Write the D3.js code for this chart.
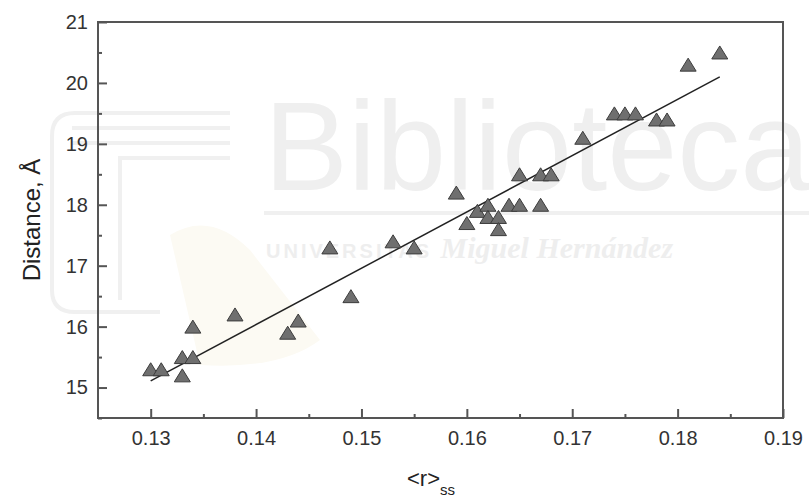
<!DOCTYPE html>
<html>
<head>
<meta charset="utf-8">
<script src="https://cdn.jsdelivr.net/npm/d3@7"></script>
<style>
  body { margin: 0; background: #fff; }
  text { font-family: "Liberation Sans", Arial, sans-serif; }
</style>
</head>
<body>
<div id="plot"></div>
<script>
// values
let rss = [0.130, 0.131, 0.133, 0.134, 0.133, 0.134, 0.138, 0.143, 0.144, 0.147,
  0.149, 0.153, 0.155, 0.159, 0.160, 0.161, 0.162, 0.162, 0.163, 0.163,
  0.164, 0.165, 0.167, 0.165, 0.167, 0.168, 0.171, 0.174, 0.175, 0.176,
  0.178, 0.179, 0.181, 0.184];
let distance = [15.3, 15.3, 15.5, 15.5, 15.2, 16.0, 16.2, 15.9, 16.1, 17.3,
  16.5, 17.4, 17.3, 18.2, 17.7, 17.9, 18.0, 17.8, 17.8, 17.6,
  18.0, 18.0, 18.0, 18.5, 18.5, 18.5, 19.1, 19.5, 19.5, 19.5,
  19.4, 19.4, 20.3, 20.5];
// linear fit ends
let fitX = [0.130, 0.184];
let fitY = [15.11, 20.10];

let xTicks = [0.13, 0.14, 0.15, 0.16, 0.17, 0.18, 0.19];
let yTicks = [15, 16, 17, 18, 19, 20, 21];

let width = 809, height = 500;
let margin = { top: 22, bottom: 82, left: 98, right: 26 };

let svg = d3.select('#plot')
  .append('svg')
  .attr('width', width)
  .attr('height', height);

// faint watermark in the background
let wm = svg.append('g').attr('fill', 'none').attr('stroke', '#f0f0f0');
wm.append('path')
  .attr('fill', '#fcfaf3').attr('stroke', 'none')
  .attr('d', 'M170,235 Q210,210 250,250 L320,340 Q280,370 200,365 Z');
wm.append('path')
  .attr('stroke-width', 4)
  .attr('d', 'M230,113 H75 Q52,113 52,136 V290 Q52,312 75,312 H160');
wm.append('path')
  .attr('stroke-width', 4)
  .attr('d', 'M230,128 H72 M230,143 H72 M230,158 H120 V300');
svg.append('text')
  .attr('x', 264).attr('y', 190)
  .attr('font-size', 126)
  .attr('fill', '#efefef')
  .text('Biblioteca');
svg.append('rect')
  .attr('x', 264).attr('y', 211).attr('width', 545).attr('height', 4)
  .attr('fill', '#f0f0f0');
let wt = svg.append('text')
  .attr('x', 266).attr('y', 258)
  .attr('fill', '#eeeeee');
wt.append('tspan').attr('font-size', 20).attr('font-weight', 'bold')
  .attr('letter-spacing', 3).text('UNIVERSITAS ');
wt.append('tspan')
  .attr('font-family', '"Liberation Serif", serif')
  .attr('font-style', 'italic').attr('font-weight', 'bold')
  .attr('font-size', 30)
  .text('Miguel Hernández');

let xScale = d3.scaleLinear()
  .domain([0.125, 0.19])
  .range([margin.left, width - margin.right]);

let yScale = d3.scaleLinear()
  .domain([14.5, 21])
  .range([height - margin.bottom, margin.top]);

// minor ticks
svg.append('g')
  .attr('transform', `translate(${margin.left},0)`)
  .call(d3.axisLeft(yScale).tickValues(d3.range(14.5, 21, 1)).tickSize(-4).tickFormat(''))
  .call(g => g.select('.domain').remove())
  .call(g => g.selectAll('line').attr('stroke', '#555').attr('stroke-width', 2));
svg.append('g')
  .attr('transform', `translate(0,${height - margin.bottom})`)
  .call(d3.axisBottom(xScale).tickValues(d3.range(0.135, 0.19, 0.01)).tickSize(-4).tickFormat(''))
  .call(g => g.select('.domain').remove())
  .call(g => g.selectAll('line').attr('stroke', '#555').attr('stroke-width', 2));

// major ticks
svg.append('g')
  .attr('transform', `translate(${margin.left},0)`)
  .call(d3.axisLeft(yScale).tickValues(yTicks).tickSize(-9).tickPadding(10).tickFormat(d3.format('d')))
  .call(g => g.select('.domain').remove())
  .call(g => g.selectAll('line').attr('stroke', '#555').attr('stroke-width', 2))
  .call(g => g.selectAll('text').attr('font-size', 20).attr('fill', '#333')
    .style('font-family', '"Liberation Sans", Arial, sans-serif'));

svg.append('g')
  .attr('transform', `translate(0,${height - margin.bottom})`)
  .call(d3.axisBottom(xScale).tickValues(xTicks).tickSize(-9).tickPadding(13).tickFormat(d3.format('.2f')))
  .call(g => g.select('.domain').remove())
  .call(g => g.selectAll('line').attr('stroke', '#555').attr('stroke-width', 2))
  .call(g => g.selectAll('text').attr('font-size', 20).attr('fill', '#333')
    .style('font-family', '"Liberation Sans", Arial, sans-serif'));

// frame
svg.append('rect')
  .attr('x', margin.left)
  .attr('y', margin.top)
  .attr('width', width - margin.left - margin.right)
  .attr('height', height - margin.top - margin.bottom)
  .attr('fill', 'none')
  .attr('stroke', '#555')
  .attr('stroke-width', 2);

// fit line
svg.append('line')
  .attr('x1', xScale(fitX[0])).attr('y1', yScale(fitY[0]))
  .attr('x2', xScale(fitX[1])).attr('y2', yScale(fitY[1]))
  .attr('stroke', '#222')
  .attr('stroke-width', 1.5);

// triangles
let tri = 'M0,-6.5 L8,6.5 L-8,6.5 Z';
svg.selectAll('path.pt')
  .data(rss.map((d, i) => ({ x: d, y: distance[i] })))
  .enter()
  .append('path')
  .attr('class', 'pt')
  .attr('d', tri)
  .attr('transform', d => `translate(${xScale(d.x)},${yScale(d.y)})`)
  .attr('fill', '#6f6f6f')
  .attr('stroke', '#3c3c3c')
  .attr('stroke-width', 1);

// axis titles
svg.append('text')
  .attr('transform', `translate(40,${(margin.top + height - margin.bottom) / 2}) rotate(-90)`)
  .attr('text-anchor', 'middle')
  .attr('font-size', 24)
  .attr('fill', '#222')
  .text('Distance, Å');

let xt = svg.append('text')
  .attr('x', 407).attr('y', 486)
  .attr('font-size', 22)
  .attr('fill', '#222');
xt.append('tspan').text('<r>');
xt.append('tspan').attr('font-size', 15).attr('dy', 9).text('ss');
</script>
</body>
</html>
